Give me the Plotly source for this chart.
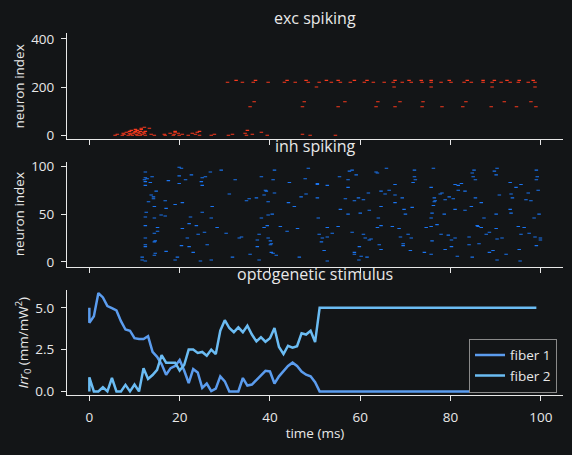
import plotly.graph_objects as go

# ---------------- data ----------------
exc_t = [5.7, 6.2, 7.3, 7.5, 7.7, 8.2, 8.6, 8.9, 8.9, 9.1, 9.3, 9.5, 9.7, 10.0, 10.2, 10.2, 10.4, 10.6, 10.6, 10.8,
         11.1, 11.3, 11.3, 11.5, 11.5, 11.7, 12.0, 12.2, 12.2, 12.4, 12.4, 13.3, 13.7, 14.4, 16.6, 16.8, 17.9, 18.6,
         18.8, 19.0, 19.0, 19.7, 19.9, 20.6, 21.9, 22.8, 23.5, 23.9, 24.4, 24.4, 27.0, 27.7, 30.8, 31.7, 34.5, 34.8,
         35.0, 36.1, 38.1, 39.4, 47.2, 48.9, 54.5,
         30.6, 32.5, 33.9, 36.3, 36.8, 39.6, 43.2, 43.8, 45.6, 48.0, 48.5, 50.3, 36.5, 35.6, 47.6, 47.2,
         52.5, 55.1, 58.7, 61.5, 67.7, 70.8, 73.5, 75.7, 79.7, 83.7, 87.2, 89.7, 92.5, 95.2, 98.3,
         50.9, 53.6, 55.6, 57.8, 60.9, 62.9, 65.3, 67.3, 69.3, 71.3, 73.7, 75.7, 77.9, 80.1, 83.0, 84.6, 87.2, 89.2,
         91.2, 93.2, 95.0, 97.2, 98.7,
         67.5, 75.7, 89.2, 98.7,
         56.6, 63.9, 68.8, 73.9, 83.4, 91.9, 97.8,
         55.1, 63.5, 67.7, 73.7, 78.1, 82.7, 89.0, 94.6, 98.9]
exc_n = [0, 4, 0, 8, 4, 12, 0, 8, 16, 4, 20, 0, 8, 12, 16, 24, 4, 0, 20, 12,
         8, 16, 0, 24, 29, 4, 12, 33, 8, 0, 16, 29, 4, 0, 4, 0, 8, 0,
         4, 16, 12, 8, 0, 4, 0, 8, 4, 12, 16, 0, 0, 4, 0, 4, 8, 0,
         20, 4, 12, 0, 4, 0, 0,
         220, 228, 220, 220, 228, 220, 220, 228, 220, 228, 220, 200, 139, 118, 139, 118,
         228, 228, 228, 228, 228, 228, 228, 228, 228, 228, 228, 228, 228, 228, 228,
         220, 220, 220, 220, 220, 220, 220, 220, 220, 220, 220, 220, 220, 220, 220, 220, 220, 220,
         220, 220, 220, 220, 220,
         200, 200, 200, 200,
         139, 139, 139, 139, 139, 139, 139,
         118, 118, 118, 118, 118, 118, 118, 118, 118]

inh_t = [19.9, 20.4, 12.4, 26.8, 29.2, 22.6, 19.9, 13.9, 12.4, 12.8, 12.2, 25.0, 25.7, 21.3, 32.3, 38.1, 41.0, 48.5,
         40.7, 47.8, 55.4, 17.5, 24.8, 13.5, 12.4, 19.9, 25.0, 12.4, 44.3, 50.5, 50.5, 52.7, 39.0, 39.2, 14.8, 31.0,
         13.7, 38.7, 41.0, 48.0, 46.9, 14.2, 14.2, 37.0, 35.4, 34.8, 16.8, 13.1, 20.6, 19.0, 39.6, 44.1, 50.5, 14.4,
         27.2, 45.4, 17.0, 12.6, 25.0, 40.5, 39.6, 15.9, 16.8, 12.4, 14.4, 22.4, 27.0, 38.1, 50.7, 22.1, 23.7, 12.4,
         15.1, 20.6, 28.3, 39.4, 38.7, 42.3, 46.1, 52.7, 55.1, 43.8, 15.1, 14.4, 25.5, 30.3, 24.1, 37.6, 50.9, 53.8,
         33.7, 33.2, 12.4, 21.7, 39.6, 51.6, 52.7, 37.2, 14.6, 14.4, 40.1, 51.4, 26.1, 12.4, 20.4, 22.1, 12.4, 37.2,
         40.3, 40.1, 52.0, 17.0, 23.0, 14.6, 14.4, 35.6, 40.3, 40.7, 41.4, 11.7, 19.5, 31.7, 46.5, 11.7, 12.4, 19.0,
         24.6, 27.0, 37.6, 52.7,
         58.2, 57.6, 59.1, 65.8, 63.5, 63.8, 72.0, 76.2, 85.2, 90.3, 89.7, 84.8, 90.1, 99.0, 99.2, 99.0, 72.0, 72.2,
         57.3, 71.7, 85.0, 85.5, 93.2, 67.7, 81.0, 82.4, 81.7, 95.6, 94.5, 57.3, 75.7, 99.4, 64.6, 66.4, 61.8, 65.5,
         67.7, 78.1, 77.7, 79.7, 81.7, 83.2, 90.8, 93.4, 97.2, 69.3, 76.4, 59.6, 56.7, 58.7, 60.7, 80.6, 85.5, 93.7,
         96.7, 97.8, 76.6, 76.4, 78.8, 67.7, 86.8, 64.6, 71.5, 69.7, 76.2, 81.0, 83.2, 84.6, 93.2, 55.6, 62.0, 57.3,
         60.0, 70.0, 75.9, 78.6, 90.1, 93.4, 99.6, 64.0, 75.7, 87.4, 98.5, 64.6, 63.8, 67.1, 68.6, 74.6, 75.7, 77.0,
         85.9, 86.1, 86.8, 90.1, 95.0, 96.3, 58.2, 60.7, 70.6, 68.9, 71.3, 77.9, 79.5, 81.0, 80.2, 84.1, 87.9, 88.6,
         91.4, 90.3, 95.6, 97.4, 98.7, 99.9, 99.9, 61.1, 62.4, 62.0, 69.5, 69.5, 64.2, 75.9, 80.2, 84.1, 86.3, 59.8,
         64.6, 71.1, 78.8, 89.4, 95.2, 99.0, 58.7, 58.7, 74.2, 75.7, 88.6, 92.3, 60.2, 61.5, 81.5, 84.8, 59.7, 90.3,
         95.4]
inh_n = [99, 98, 94, 94, 96, 91, 90, 89, 88, 87, 86, 88, 89, 86, 86, 89, 96, 98,
         86, 87, 89, 85, 84, 83, 84, 82, 80, 80, 83, 82, 81, 80, 75, 74, 74, 71,
         70, 70, 72, 71, 68, 68, 66, 67, 66, 64, 64, 63, 62, 60, 63, 62, 67, 58,
         58, 58, 56, 52, 52, 50, 49, 49, 48, 47, 46, 47, 46, 46, 46, 40, 38, 38,
         36, 35, 36, 38, 36, 37, 35, 36, 37, 32, 32, 30, 31, 30, 29, 29, 29, 30,
         26, 25, 25, 25, 25, 25, 26, 23, 22, 21, 22, 21, 18, 18, 17, 16, 16, 16,
         19, 18, 12, 11, 10, 9, 7, 8, 10, 9, 7, 5, 5, 5, 5, 2, 1, 2,
         1, 2, 2, 1,
         96, 95, 91, 98, 94, 93, 96, 98, 96, 98, 95, 93, 91, 96, 89, 86, 89, 86,
         86, 83, 89, 86, 83, 81, 81, 82, 80, 81, 78, 78, 78, 75, 74, 75, 72, 71,
         70, 72, 71, 68, 75, 74, 70, 71, 72, 67, 67, 67, 66, 64, 65, 66, 67, 67,
         65, 64, 64, 63, 65, 62, 62, 58, 57, 55, 59, 55, 54, 58, 55, 55, 54, 50,
         51, 50, 51, 50, 50, 51, 50, 46, 46, 46, 46, 38, 36, 37, 35, 36, 37, 39,
         38, 37, 36, 35, 37, 36, 31, 29, 29, 26, 25, 29, 28, 25, 23, 26, 29, 31,
         25, 24, 29, 30, 26, 25, 23, 25, 24, 23, 19, 17, 18, 22, 16, 18, 19, 16,
         13, 12, 13, 12, 13, 17, 10, 8, 10, 8, 10, 8, 6, 5, 6, 5, 2, 2,
         1]

time_ms = [0, 0, 1, 2, 3, 4, 5, 6, 7, 8, 9, 10, 11, 12, 13, 14, 15, 16, 17, 18, 19, 20, 21, 22, 23, 24, 25, 26, 27,
           28, 29, 30, 31, 32, 33, 34, 35, 36, 37, 38, 39, 40, 41, 42, 43, 44, 45, 46, 47, 48, 49, 50, 51, 52, 53,
           54, 55, 56, 57, 58, 59, 60, 61, 62, 63, 64, 65, 66, 67, 68, 69, 70, 71, 72, 73, 74, 75, 76, 77, 78, 79,
           80, 81, 82, 83, 84, 85, 86, 87, 88, 89, 90, 91, 92, 93, 94, 95, 96, 97, 98, 99]
fiber1 = [5.0, 4.1, 4.5, 5.88, 5.62, 5.10, 4.98, 4.84, 4.2, 3.7, 3.63, 3.18, 3.13, 3.13, 3.3, 2.36, 2.07, 1.64, 1.0,
          1.39, 1.52, 1.88, 1.25, 0.5, 1.33, 1.13, 0.21, 0.47, 0.02, 0.16, 0.9, 0.6, 0.0, 0.0, 0.0, 0.8, 0.35, 0.41,
          0.7, 0.98, 1.23, 1.19, 0.47, 0.9, 1.21, 1.52, 1.72, 1.52, 1.19, 1.0, 0.9, 0.55,
          0.0, 0.0, 0.0, 0.0, 0.0, 0.0, 0.0, 0.0, 0.0, 0.0, 0.0, 0.0, 0.0, 0.0, 0.0, 0.0, 0.0, 0.0, 0.0, 0.0, 0.0,
          0.0, 0.0, 0.0, 0.0, 0.0, 0.0, 0.0, 0.0, 0.0, 0.0, 0.0, 0.0, 0.0, 0.0, 0.0, 0.0, 0.0, 0.0, 0.0, 0.0, 0.0,
          0.0, 0.0, 0.0, 0.0, 0.0, 0.0, 0.0]
fiber2 = [0.0, 0.84, 0.0, 0.0, 0.25, 0.0, 0.8, 0.0, 0.0, 0.39, 0.0, 0.41, 0.0, 1.39, 0.74, 0.98, 1.29, 2.17, 1.72,
          1.72, 1.72, 1.25, 1.58, 2.5, 2.5, 2.3, 2.36, 2.13, 2.5, 2.23, 3.63, 4.26, 3.79, 3.54, 3.83, 3.54, 3.93,
          3.4, 2.99, 3.24, 2.97, 3.18, 3.79, 2.66, 2.23, 2.73, 2.62, 2.7, 3.48, 3.4, 3.63, 2.95,
          5.0, 5.0, 5.0, 5.0, 5.0, 5.0, 5.0, 5.0, 5.0, 5.0, 5.0, 5.0, 5.0, 5.0, 5.0, 5.0, 5.0, 5.0, 5.0, 5.0, 5.0,
          5.0, 5.0, 5.0, 5.0, 5.0, 5.0, 5.0, 5.0, 5.0, 5.0, 5.0, 5.0, 5.0, 5.0, 5.0, 5.0, 5.0, 5.0, 5.0, 5.0, 5.0,
          5.0, 5.0, 5.0, 5.0, 5.0, 5.0, 5.0]

x_ticks = [0, 20, 40, 60, 80, 100]
exc_ticks = [0, 200, 400]
inh_ticks = [0, 50, 100]
irr_ticks = [0.0, 2.5, 5.0]

# ---------------- style ----------------
BG = "#131517"
FG = "#e8e8e8"
FONT = "Open Sans"
FS = 13.5
W, H = 572, 455

def py(v):
    return 1 - v / H

fig = go.Figure()

fig.add_trace(go.Scatter(x=exc_t, y=exc_n, mode="markers", xaxis="x", yaxis="y", showlegend=False,
                         marker=dict(symbol="line-ew", size=2.5, color="#fa3a1e",
                                     line=dict(color="#fa3a1e", width=1.1))))
fig.add_trace(go.Scatter(x=inh_t, y=inh_n, mode="markers", xaxis="x2", yaxis="y2", showlegend=False,
                         marker=dict(symbol="line-ew", size=2.5, color="#1a74f0",
                                     line=dict(color="#1a74f0", width=1.1))))
fig.add_trace(go.Scatter(x=time_ms, y=fiber1, mode="lines", xaxis="x3", yaxis="y3", name="fiber 1",
                         line=dict(color="#5b9cee", width=2.5)))
fig.add_trace(go.Scatter(x=time_ms, y=fiber2, mode="lines", xaxis="x3", yaxis="y3", name="fiber 2",
                         line=dict(color="#6bbcf3", width=2.5)))

xdom = [67 / W, 563 / W]
axis_common = dict(showline=True, linecolor=FG, linewidth=1, ticks="outside", ticklen=5, tickwidth=1,
                   tickcolor=FG, showgrid=False, zeroline=False, mirror=False, ticklabelstandoff=4,
                   tickfont=dict(family=FONT, size=FS, color=FG))

xr = [-4.95, 104.9]
fig.update_layout(
    xaxis=dict(domain=xdom, range=xr, anchor="y", tickvals=x_ticks, showticklabels=False, **axis_common),
    xaxis2=dict(domain=xdom, range=xr, anchor="y2", tickvals=x_ticks, showticklabels=False, **axis_common),
    xaxis3=dict(domain=xdom, range=xr, anchor="y3", tickvals=x_ticks,
                title=dict(text="time (ms)", font=dict(family=FONT, size=FS, color=FG), standoff=3),
                **axis_common),
    yaxis=dict(domain=[py(138), py(30)], range=[-17, 423], anchor="x", tickvals=exc_ticks,
               title=dict(text="neuron index", font=dict(family=FONT, size=FS, color=FG), standoff=3),
               **axis_common),
    yaxis2=dict(domain=[py(268), py(160.7)], range=[-5, 105], anchor="x2", tickvals=inh_ticks,
                title=dict(text="neuron index", font=dict(family=FONT, size=FS, color=FG), standoff=3),
                **axis_common),
    yaxis3=dict(domain=[py(399.3), py(291.7)], range=[-0.24, 6.07], anchor="x3", tickvals=irr_ticks,
                tickformat=".1f",
                title=dict(text="<i>Irr</i><sub>0</sub> (mm/mW<sup>2</sup>)",
                           font=dict(family=FONT, size=FS, color=FG), standoff=3),
                **axis_common),
)

titles = [("exc spiking", 14), ("inh spiking", 145), ("optogenetic stimulus", 275)]
for txt, ypx in titles:
    fig.add_annotation(text=txt, x=(xdom[0] + xdom[1]) / 2, y=py(ypx), xref="paper", yref="paper",
                       xanchor="center", yanchor="middle", showarrow=False,
                       font=dict(family=FONT, size=16, color=FG))

fig.update_layout(
    width=W, height=H, margin=dict(l=0, r=0, t=0, b=0),
    paper_bgcolor=BG, plot_bgcolor=BG,
    font=dict(family=FONT, color=FG, size=FS),
    legend=dict(x=557 / W, xanchor="right", y=py(369), yanchor="middle",
                bgcolor=BG, bordercolor="#8a8a8a", borderwidth=1,
                font=dict(family=FONT, size=FS, color=FG), tracegroupgap=0),
)

fig.write_html("out.html")
